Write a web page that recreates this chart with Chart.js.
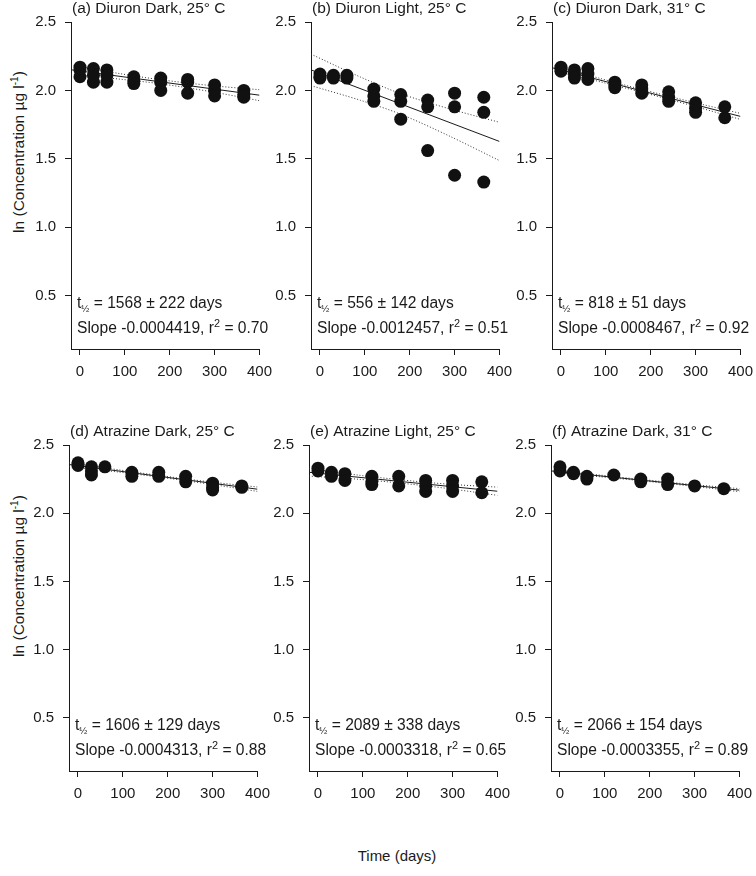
<!DOCTYPE html>
<html>
<head>
<meta charset="utf-8">
<title>Diuron and atrazine degradation</title>
<script src="https://cdn.jsdelivr.net/npm/chart.js@4.4.1/dist/chart.umd.min.js"></script>
<style>
  body { margin: 0; background: #fff; }
  #fig { position: relative; width: 756px; height: 876px; overflow: hidden;
         font-family: "Liberation Sans", Arial, sans-serif; color: #1a1a1a; }
  #fig canvas { position: absolute; }
  .ytitle { position: absolute; width: 240px; text-align: center; font-size: 15.5px;
            line-height: 20px; white-space: nowrap; transform: rotate(-90deg); }
  .ytitle sup { font-size: 10px; line-height: 0; vertical-align: 6px; }
  .xtitle { position: absolute; width: 200px; text-align: center; font-size: 15px; line-height: 20px; }
</style>
</head>
<body>
<div id="fig">
  <div class="ytitle" style="left:-101px; top:142px;">ln (Concentration µg l<sup>-1</sup>)</div>
  <div class="ytitle" style="left:-101px; top:566px;">ln (Concentration µg l<sup>-1</sup>)</div>
  <div class="xtitle" style="left:297px; top:846px;">Time (days)</div>
</div>
<script>
// sampling days, shared by every panel
const days = [0, 30, 60, 120, 180, 240, 300, 365];

// replicate values, ln(concentration), one inner array per sampling day
const diuronDark25   = [[2.17, 2.15, 2.10], [2.16, 2.11, 2.06], [2.15, 2.11, 2.06], [2.10, 2.07, 2.05],
                        [2.09, 2.06, 2.00], [2.08, 2.06, 1.98], [2.04, 2.00, 1.96], [2.00, 1.97, 1.95]];
const diuronLight25  = [[2.12, 2.10, 2.09], [2.11, 2.09], [2.11, 2.09], [2.01, 1.96, 1.92],
                        [1.97, 1.92, 1.79], [1.93, 1.88, 1.56], [1.98, 1.88, 1.38], [1.95, 1.84, 1.33]];
const diuronDark31   = [[2.17, 2.16, 2.14], [2.15, 2.12, 2.09], [2.16, 2.12, 2.08], [2.06, 2.04, 2.02],
                        [2.04, 2.01, 1.98], [1.99, 1.95, 1.92], [1.91, 1.87, 1.84], [1.88, 1.80]];
const atrazineDark25 = [[2.37, 2.35], [2.34, 2.31, 2.28], [2.34], [2.30, 2.27],
                        [2.30, 2.27], [2.27, 2.23], [2.22, 2.19, 2.17], [2.20, 2.19]];
const atrazineLight25 = [[2.33, 2.31], [2.30, 2.27], [2.29, 2.24], [2.27, 2.23, 2.21],
                        [2.27, 2.20], [2.24, 2.20, 2.16], [2.24, 2.20, 2.16], [2.23, 2.15]];
const atrazineDark31 = [[2.34, 2.31], [2.30, 2.29], [2.27, 2.25], [2.28],
                        [2.25, 2.23], [2.25, 2.21], [2.20], [2.18]];

// regression line ends and 95% confidence band
const fitX  = [-20, 400];
const bandX = [-20, 90, 180, 290, 400];
const fitA = [2.151, 1.965], upA = [2.186, 2.122, 2.078, 2.036, 2.005], loA = [2.116, 2.082, 2.048, 1.992, 1.925];
const fitB = [2.150, 1.627], upB = [2.265, 2.098, 1.976, 1.864, 1.767], loB = [2.035, 1.928, 1.826, 1.664, 1.487];
const fitC = [2.166, 1.810], upC = [2.186, 2.085, 2.007, 1.917, 1.832], loC = [2.146, 2.061, 1.987, 1.891, 1.788];
const fitD = [2.357, 2.176], upD = [2.372, 2.318, 2.277, 2.231, 2.192], loD = [2.342, 2.302, 2.265, 2.215, 2.160];
const fitE = [2.300, 2.161], upE = [2.328, 2.279, 2.246, 2.213, 2.191], loE = [2.272, 2.249, 2.222, 2.181, 2.131];
const fitF = [2.310, 2.169], upF = [2.320, 2.279, 2.248, 2.212, 2.180], loF = [2.300, 2.267, 2.238, 2.200, 2.158];

// axis ticks
const xTicks = [0, 100, 200, 300, 400];
const yTicks = [0.5, 1.0, 1.5, 2.0, 2.5];

// panel texts
const titles    = ['(a) Diuron Dark, 25° C', '(b) Diuron Light, 25° C', '(c) Diuron Dark, 31° C',
                   '(d) Atrazine Dark, 25° C', '(e) Atrazine Light, 25° C', '(f) Atrazine Dark, 31° C'];
const halfLives = ['1568 ± 222', '556 ± 142', '818 ± 51', '1606 ± 129', '2089 ± 338', '2066 ± 154'];
const slopes    = ['-0.0004419', '-0.0012457', '-0.0008467', '-0.0004313', '-0.0003318', '-0.0003355'];
const rSquared  = ['0.70', '0.51', '0.92', '0.88', '0.65', '0.89'];

const FONT = '"Liberation Sans", Arial, sans-serif';
const INK = '#1a1a1a';

// plot-area rectangles on the page (left, top, right, bottom)
const boxes = [
  [71, 22, 260, 349], [311, 22, 500, 349], [552, 22, 741, 349],
  [69, 445, 258, 771], [309, 445, 498, 771], [551, 445, 740, 771]
];

const series = [
  [diuronDark25, fitA, upA, loA], [diuronLight25, fitB, upB, loB], [diuronDark31, fitC, upC, loC],
  [atrazineDark25, fitD, upD, loD], [atrazineLight25, fitE, upE, loE], [atrazineDark31, fitF, upF, loF]
];

// draws text pieces one after another, with sub/superscripts
function drawRuns(ctx, runs, x, y, size) {
  runs.forEach(([txt, kind]) => {
    let s = size, dy = 0;
    if (kind === 'sub') { s = size * 0.62; dy = 4; }
    if (kind === 'sup') { s = size * 0.7; dy = -6; }
    ctx.font = s + 'px ' + FONT;
    ctx.fillText(txt, x, y + dy);
    x += ctx.measureText(txt).width;
  });
}

const panelText = {
  id: 'panelText',
  afterDatasetsDraw(chart, args, o) {
    const { ctx, chartArea: a } = chart;
    ctx.save();
    ctx.fillStyle = INK;
    ctx.textBaseline = 'alphabetic';
    ctx.textAlign = 'left';
    drawRuns(ctx, [[o.title]], a.left + 1, a.top - 9, 15.5);
    drawRuns(ctx, [['t'], ['½', 'sub'], [' = ' + o.half + ' days']], a.left + 6, a.bottom - 41, 15.6);
    drawRuns(ctx, [['Slope ' + o.slope + ', r'], ['2', 'sup'], [' = ' + o.r2]], a.left + 6, a.bottom - 16, 15.6);
    ctx.restore();
  }
};

const PAD_L = 45, PAD_T = 22, PAD_R = 20, PAD_B = 40;

function axisStyle() {
  return {
    type: 'linear',
    grid: { display: true, drawOnChartArea: false, drawTicks: true, tickLength: 6, color: INK, lineWidth: 1 },
    border: { display: true, color: INK, width: 1 },
    ticks: { color: INK, font: { family: FONT, size: 15 }, autoSkip: false, maxRotation: 0 }
  };
}

const fig = document.getElementById('fig');

boxes.forEach(([l, t, r, b], i) => {
  const [vals, fit, up, lo] = series[i];
  const canvas = document.createElement('canvas');
  canvas.width = PAD_L + (r - l) + PAD_R;
  canvas.height = PAD_T + (b - t) + PAD_B;
  canvas.style.left = (l - PAD_L) + 'px';
  canvas.style.top = (t - PAD_T) + 'px';
  fig.appendChild(canvas);

  const points = days.flatMap((d, k) => vals[k].map(v => ({ x: d, y: v })));
  const line = (xs, ys) => xs.map((x, k) => ({ x: x, y: ys[k] }));

  const x = axisStyle();
  Object.assign(x, {
    min: -20, max: 400,
    afterBuildTicks: s => { s.ticks = xTicks.map(v => ({ value: v })); },
    afterFit: s => { s.height = PAD_B; }
  });
  x.ticks.padding = 8;

  const y = axisStyle();
  Object.assign(y, {
    min: 0.11, max: 2.5,
    afterBuildTicks: s => { s.ticks = yTicks.map(v => ({ value: v })); },
    afterFit: s => { s.width = PAD_L; }
  });
  y.ticks.padding = 9;
  y.ticks.callback = v => v.toFixed(1);

  new Chart(canvas, {
    type: 'scatter',
    data: {
      datasets: [
        { data: points, pointRadius: 6.5, pointBackgroundColor: '#111', pointBorderColor: '#111', pointBorderWidth: 0 },
        { data: line(fitX, fit), showLine: true, pointRadius: 0, borderColor: INK, borderWidth: 1 },
        { data: line(bandX, up), showLine: true, pointRadius: 0, borderColor: '#333', borderWidth: 1, borderDash: [1, 2], tension: 0.3 },
        { data: line(bandX, lo), showLine: true, pointRadius: 0, borderColor: '#333', borderWidth: 1, borderDash: [1, 2], tension: 0.3 }
      ]
    },
    options: {
      responsive: false,
      animation: false,
      devicePixelRatio: 1,
      layout: { padding: { top: PAD_T, right: PAD_R, left: 0, bottom: 0 } },
      plugins: {
        legend: { display: false },
        tooltip: { enabled: false },
        panelText: { title: titles[i], half: halfLives[i], slope: slopes[i], r2: rSquared[i] }
      },
      scales: { x: x, y: y }
    },
    plugins: [panelText]
  });
});
</script>
</body>
</html>
